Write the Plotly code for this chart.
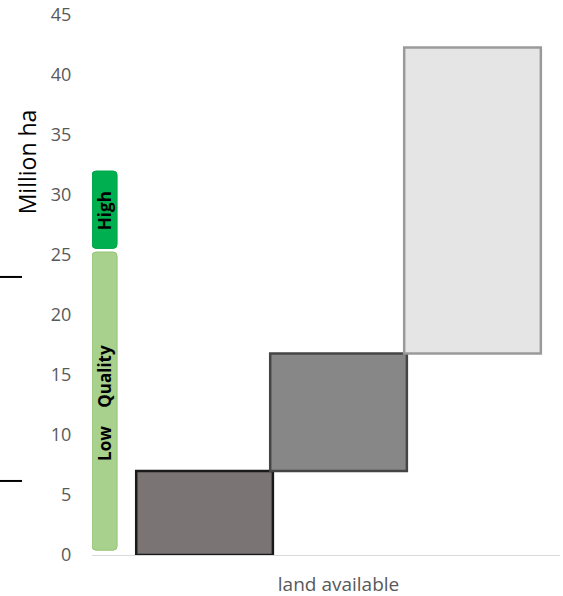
import plotly.graph_objects as go

# ---- data ----
step_x = [1, 2, 3]
step_base = [0.0, 7.0, 16.8]
step_height = [7.0, 9.8, 25.5]
step_fill = ["#7a7574", "#878787", "#e5e5e5"]
step_edge = ["#1a1a1a", "#454545", "#9a9a9a"]

quality_x = [0.2537, 0.2537]
quality_base = [0.4, 25.55]
quality_height = [24.85, 6.45]
quality_fill = ["#a9d18e", "#00b050"]
quality_edge = ["#93c573", "#00a648"]

quality_labels = ["High", "Quality", "Low"]
quality_label_y = [28.7, 14.9, 9.3]

y_ticks = [0, 5, 10, 15, 20, 25, 30, 35, 40, 45]
x_tick_vals = [2]
x_tick_text = ["land available"]

FONT = "Open Sans"

fig = go.Figure()

fig.add_trace(go.Bar(
    x=step_x, y=step_height, base=step_base, width=1.02,
    marker=dict(color=step_fill, line=dict(color=step_edge, width=2.5)),
    hoverinfo="skip", showlegend=False,
))

fig.add_trace(go.Bar(
    x=quality_x, y=quality_height, base=quality_base, width=0.187,
    marker=dict(color=quality_fill, line=dict(color=quality_edge, width=1), cornerradius=4),
    hoverinfo="skip", showlegend=False,
))

for txt, yv in zip(quality_labels, quality_label_y):
    fig.add_annotation(x=quality_x[0], y=yv, xref="x", yref="y", text="<b>%s</b>" % txt,
                       textangle=-90, showarrow=False, xanchor="center", yanchor="middle",
                       font=dict(family=FONT, size=17, color="#000000"))

# axis title
fig.add_annotation(x=-0.139, y=32.8, xref="paper", yref="y", text="Million ha",
                   textangle=-90, showarrow=False, xanchor="center", yanchor="middle",
                   font=dict(family=FONT, size=23, color="#000000"))

# stray marks at left edge
for yv in [23.17, 6.17]:
    fig.add_shape(type="line", xref="paper", yref="y", x0=-0.1966, x1=-0.1496,
                  y0=yv, y1=yv, line=dict(color="#000000", width=2))

fig.update_layout(
    width=563, height=596,
    margin=dict(l=92, r=3, t=15, b=41),
    plot_bgcolor="white", paper_bgcolor="white",
    barmode="overlay",
    font=dict(family=FONT, size=18, color="#595959"),
    xaxis=dict(range=[0.16, 3.653], showgrid=False, zeroline=False, automargin=False,
               showline=True, linecolor="#d9d9d9", linewidth=1,
               tickmode="array", tickvals=x_tick_vals, ticktext=x_tick_text,
               ticks="outside", ticklen=12, tickcolor="rgba(0,0,0,0)",
               tickfont=dict(family=FONT, size=19, color="#595959")),
    yaxis=dict(range=[0, 45], showgrid=False, zeroline=False, showline=False, automargin=False,
               tickmode="array", tickvals=y_ticks,
               ticks="outside", ticklen=16, tickcolor="rgba(0,0,0,0)",
               tickfont=dict(family=FONT, size=18, color="#595959")),
)

fig.write_html("out.html")
